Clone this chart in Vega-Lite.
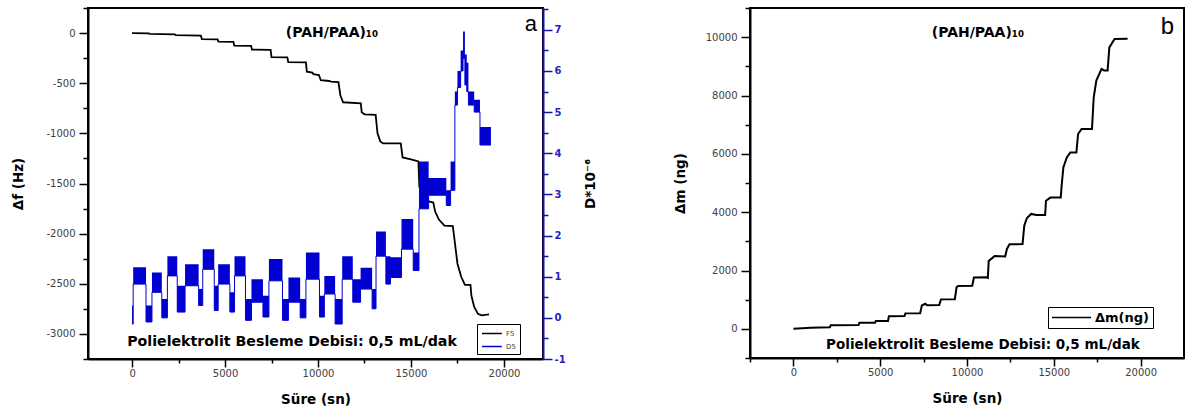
{
  "$schema": "https://vega.github.io/schema/vega-lite/v6.json",
  "background": "white",
  "padding": {"left": 10, "top": 2, "right": 0, "bottom": 0},
  "spacing": 207,
  "bounds": "flush",
  "config": {
    "view": {"stroke": "black", "strokeWidth": 2},
    "font": "DejaVu Sans",
    "axis": {"grid": false, "domainColor": "black", "domainWidth": 2, "tickColor": "black", "tickWidth": 1.5, "tickSize": 9,
      "labelFont": "DejaVu Sans", "labelFontSize": 10, "labelColor": "#404040", "labelPadding": 4,
      "titleFont": "DejaVu Sans", "titleFontWeight": "bold", "titleFontSize": 13.5, "titleColor": "black",
      "labelOverlap": false, "labelFlush": false, "tickCount": 100}
  },
  "datasets": {
    "f5": [
      {"t":0,"f":0,"series":"F5"},{"t":900,"f":-3,"series":"F5"},{"t":950,"f":-8,"series":"F5"},{"t":2300,"f":-12,"series":"F5"},{"t":2350,"f":-20,"series":"F5"},
      {"t":3700,"f":-25,"series":"F5"},{"t":3750,"f":-60,"series":"F5"},{"t":4600,"f":-62,"series":"F5"},{"t":4650,"f":-85,"series":"F5"},{"t":5450,"f":-87,"series":"F5"},
      {"t":5500,"f":-125,"series":"F5"},{"t":6400,"f":-127,"series":"F5"},{"t":6450,"f":-165,"series":"F5"},{"t":7450,"f":-168,"series":"F5"},{"t":7500,"f":-240,"series":"F5"},
      {"t":8350,"f":-243,"series":"F5"},{"t":8400,"f":-290,"series":"F5"},{"t":9350,"f":-292,"series":"F5"},{"t":9400,"f":-385,"series":"F5"},{"t":9700,"f":-395,"series":"F5"},
      {"t":9750,"f":-410,"series":"F5"},{"t":10050,"f":-418,"series":"F5"},{"t":10150,"f":-470,"series":"F5"},{"t":10600,"f":-478,"series":"F5"},{"t":10700,"f":-485,"series":"F5"},
      {"t":11100,"f":-488,"series":"F5"},{"t":11200,"f":-620,"series":"F5"},{"t":11350,"f":-690,"series":"F5"},{"t":12300,"f":-700,"series":"F5"},{"t":12350,"f":-790,"series":"F5"},
      {"t":12500,"f":-810,"series":"F5"},{"t":13100,"f":-815,"series":"F5"},{"t":13200,"f":-1000,"series":"F5"},{"t":13350,"f":-1080,"series":"F5"},{"t":13500,"f":-1100,"series":"F5"},
      {"t":14450,"f":-1100,"series":"F5"},{"t":14550,"f":-1240,"series":"F5"},{"t":15000,"f":-1260,"series":"F5"},{"t":15400,"f":-1280,"series":"F5"},{"t":15450,"f":-1530,"series":"F5"},
      {"t":15600,"f":-1600,"series":"F5"},{"t":15800,"f":-1660,"series":"F5"},{"t":16000,"f":-1680,"series":"F5"},{"t":16200,"f":-1690,"series":"F5"},{"t":16300,"f":-1780,"series":"F5"},
      {"t":16500,"f":-1860,"series":"F5"},{"t":16800,"f":-1920,"series":"F5"},{"t":17250,"f":-1925,"series":"F5"},{"t":17300,"f":-2000,"series":"F5"},{"t":17400,"f":-2150,"series":"F5"},
      {"t":17500,"f":-2300,"series":"F5"},{"t":17700,"f":-2430,"series":"F5"},{"t":17900,"f":-2510,"series":"F5"},{"t":18200,"f":-2510,"series":"F5"},{"t":18250,"f":-2620,"series":"F5"},
      {"t":18400,"f":-2730,"series":"F5"},{"t":18600,"f":-2800,"series":"F5"},{"t":18800,"f":-2815,"series":"F5"},{"t":19200,"f":-2805,"series":"F5"}
    ],
    "d5": [
      {"t":0,"lo":-0.15,"hi":0.3,"series":"D5"},{"t":60,"lo":0.82,"hi":1.23,"series":"D5"},{"t":750,"lo":-0.1,"hi":0.3,"series":"D5"},{"t":1070,"lo":0.62,"hi":1.1,"series":"D5"},
      {"t":1600,"lo":0.0,"hi":0.46,"series":"D5"},{"t":1900,"lo":1.02,"hi":1.5,"series":"D5"},{"t":2430,"lo":0.14,"hi":0.78,"series":"D5"},{"t":2850,"lo":0.78,"hi":1.3,"series":"D5"},
      {"t":3580,"lo":0.3,"hi":0.7,"series":"D5"},{"t":3800,"lo":1.18,"hi":1.67,"series":"D5"},{"t":4420,"lo":0.18,"hi":0.78,"series":"D5"},{"t":4630,"lo":0.82,"hi":1.3,"series":"D5"},
      {"t":5260,"lo":0.14,"hi":0.62,"series":"D5"},{"t":5510,"lo":1.02,"hi":1.5,"series":"D5"},{"t":6100,"lo":-0.06,"hi":0.46,"series":"D5"},{"t":6420,"lo":0.38,"hi":0.94,"series":"D5"},
      {"t":7040,"lo":0.02,"hi":0.54,"series":"D5"},{"t":7360,"lo":0.9,"hi":1.43,"series":"D5"},{"t":8090,"lo":-0.06,"hi":0.46,"series":"D5"},{"t":8410,"lo":0.38,"hi":0.98,"series":"D5"},
      {"t":9040,"lo":0.0,"hi":0.46,"series":"D5"},{"t":9350,"lo":0.94,"hi":1.59,"series":"D5"},{"t":10080,"lo":0.02,"hi":0.54,"series":"D5"},{"t":10340,"lo":0.58,"hi":1.02,"series":"D5"},
      {"t":10920,"lo":-0.15,"hi":0.46,"series":"D5"},{"t":11300,"lo":0.94,"hi":1.5,"series":"D5"},{"t":11870,"lo":0.38,"hi":0.94,"series":"D5"},{"t":12290,"lo":0.7,"hi":1.22,"series":"D5"},
      {"t":12910,"lo":0.22,"hi":0.7,"series":"D5"},{"t":13120,"lo":1.5,"hi":2.1,"series":"D5"},{"t":13650,"lo":0.82,"hi":1.5,"series":"D5"},{"t":13900,"lo":0.98,"hi":1.47,"series":"D5"},
      {"t":14490,"lo":1.67,"hi":2.4,"series":"D5"},{"t":15120,"lo":1.15,"hi":1.59,"series":"D5"},{"t":15430,"lo":2.65,"hi":3.8,"series":"D5"},{"t":15950,"lo":2.98,"hi":3.4,"series":"D5"},
      {"t":16900,"lo":2.73,"hi":3.1,"series":"D5"},{"t":17130,"lo":3.1,"hi":3.8,"series":"D5"},{"t":17360,"lo":5.17,"hi":5.5,"series":"D5"},{"t":17500,"lo":5.6,"hi":6.0,"series":"D5"},
      {"t":17670,"lo":6.0,"hi":6.5,"series":"D5"},{"t":17800,"lo":6.3,"hi":6.96,"series":"D5"},{"t":17900,"lo":5.66,"hi":6.4,"series":"D5"},{"t":18000,"lo":5.5,"hi":6.2,"series":"D5"},
      {"t":18090,"lo":5.17,"hi":5.5,"series":"D5"},{"t":18400,"lo":5.0,"hi":5.3,"series":"D5"},{"t":18710,"lo":4.2,"hi":4.64,"series":"D5"},{"t":19300,"lo":4.2,"hi":4.64,"series":"D5"}
    ],
    "dm": [
      {"t":0,"m":0,"series":"Δm(ng)"},{"t":1000,"m":35,"series":"Δm(ng)"},{"t":2100,"m":57,"series":"Δm(ng)"},{"t":2150,"m":120,"series":"Δm(ng)"},{"t":3750,"m":130,"series":"Δm(ng)"},
      {"t":3800,"m":205,"series":"Δm(ng)"},{"t":4700,"m":210,"series":"Δm(ng)"},{"t":4750,"m":265,"series":"Δm(ng)"},{"t":5450,"m":268,"series":"Δm(ng)"},{"t":5500,"m":435,"series":"Δm(ng)"},
      {"t":6400,"m":440,"series":"Δm(ng)"},{"t":6450,"m":530,"series":"Δm(ng)"},{"t":7300,"m":535,"series":"Δm(ng)"},{"t":7400,"m":800,"series":"Δm(ng)"},{"t":7600,"m":860,"series":"Δm(ng)"},
      {"t":7700,"m":810,"series":"Δm(ng)"},{"t":8400,"m":815,"series":"Δm(ng)"},{"t":8500,"m":1010,"series":"Δm(ng)"},{"t":9300,"m":1015,"series":"Δm(ng)"},{"t":9400,"m":1430,"series":"Δm(ng)"},
      {"t":9500,"m":1470,"series":"Δm(ng)"},{"t":10300,"m":1475,"series":"Δm(ng)"},{"t":10400,"m":1760,"series":"Δm(ng)"},{"t":11100,"m":1770,"series":"Δm(ng)"},{"t":11200,"m":1750,"series":"Δm(ng)"},
      {"t":11250,"m":2330,"series":"Δm(ng)"},{"t":11500,"m":2450,"series":"Δm(ng)"},{"t":11600,"m":2500,"series":"Δm(ng)"},{"t":12200,"m":2480,"series":"Δm(ng)"},{"t":12300,"m":2740,"series":"Δm(ng)"},
      {"t":12450,"m":2900,"series":"Δm(ng)"},{"t":13200,"m":2905,"series":"Δm(ng)"},{"t":13300,"m":3540,"series":"Δm(ng)"},{"t":13450,"m":3800,"series":"Δm(ng)"},{"t":13700,"m":3940,"series":"Δm(ng)"},
      {"t":14000,"m":3900,"series":"Δm(ng)"},{"t":14500,"m":3905,"series":"Δm(ng)"},{"t":14550,"m":4390,"series":"Δm(ng)"},{"t":14800,"m":4500,"series":"Δm(ng)"},{"t":15400,"m":4500,"series":"Δm(ng)"},
      {"t":15450,"m":4900,"series":"Δm(ng)"},{"t":15550,"m":5530,"series":"Δm(ng)"},{"t":15750,"m":5880,"series":"Δm(ng)"},{"t":15950,"m":6050,"series":"Δm(ng)"},{"t":16300,"m":6050,"series":"Δm(ng)"},
      {"t":16400,"m":6680,"series":"Δm(ng)"},{"t":16600,"m":6850,"series":"Δm(ng)"},{"t":17200,"m":6850,"series":"Δm(ng)"},{"t":17300,"m":7940,"series":"Δm(ng)"},{"t":17450,"m":8510,"series":"Δm(ng)"},
      {"t":17750,"m":8910,"series":"Δm(ng)"},{"t":17900,"m":8860,"series":"Δm(ng)"},{"t":18100,"m":8860,"series":"Δm(ng)"},{"t":18200,"m":9650,"series":"Δm(ng)"},{"t":18500,"m":9940,"series":"Δm(ng)"},
      {"t":19250,"m":9945,"series":"Δm(ng)"}
    ]
  },
  "resolve": {"scale": {"color": "independent"}, "legend": {"color": "independent"}},
  "hconcat": [
    {
      "width": 455, "height": 351,
      "layer": [
        {
          "layer": [
            {
              "data": {"name": "f5"},
              "mark": {"type": "line", "strokeWidth": 1.8},
              "encoding": {
                "x": {"field": "t", "type": "quantitative",
                  "scale": {"domain": [-2370, 22100], "nice": false, "zero": false},
                  "axis": {"title": "Süre (sn)", "values": [0,2500,5000,7500,10000,12500,15000,17500,20000],
                    "labelExpr": "datum.value % 5000 === 0 ? '' + datum.value : ''",
                    "tickCount": 100, "tickSize": 8, "labelPadding": 1, "titlePadding": 14,
                    "encoding": {"ticks": {"y2": {"value": {"expr": "datum.value % 5000 === 0 ? 8 : 4"}}}}}},
                "y": {"field": "f", "type": "quantitative",
                  "scale": {"domain": [-3250, 250], "nice": false, "zero": false},
                  "axis": {"title": "Δf (Hz)", "orient": "left",
                    "values": [-3250,-3000,-2750,-2500,-2250,-2000,-1750,-1500,-1250,-1000,-750,-500,-250,0,250],
                    "labelExpr": "abs(datum.value) % 500 == 0 ? '' + datum.value : ''",
                    "tickCount": 100, "titlePadding": 20,
                    "encoding": {"ticks": {"x2": {"value": {"expr": "abs(datum.value) % 500 == 0 ? -9 : -5"}}}}}},
                "color": {"field": "series", "type": "nominal",
                  "scale": {"domain": ["F5", "D5"], "range": ["#000000", "#0000d0"]},
                  "legend": {"title": null, "orient": "none", "legendX": 389, "legendY": 316, "symbolType": "M-1,0H3.4",
                    "symbolSize": 81, "symbolStrokeWidth": 1.5, "labelFontSize": 7, "labelColor": "#444", "labelOffset": 14,
                    "strokeColor": "black", "fillColor": "white", "padding": 4, "rowPadding": 4}}
              }
            },
            {
              "data": {"values": [{"t": 10750, "f": 0, "label": "(PAH/PAA)₁₀"}]},
              "mark": {"type": "text", "font": "DejaVu Sans", "fontWeight": "bold", "fontSize": 14, "align": "center", "baseline": "middle", "color": "black"},
              "encoding": {"x": {"field": "t", "type": "quantitative"}, "y": {"field": "f", "type": "quantitative"}, "text": {"field": "label"}}
            },
            {
              "data": {"values": [{"t": 21450, "f": 90, "label": "a"}]},
              "mark": {"type": "text", "font": "Liberation Sans", "fontSize": 22, "align": "center", "baseline": "middle", "color": "black"},
              "encoding": {"x": {"field": "t", "type": "quantitative"}, "y": {"field": "f", "type": "quantitative"}, "text": {"field": "label"}}
            },
            {
              "data": {"values": [{"t": 8600, "f": -3080, "label": "Polielektrolit Besleme Debisi: 0,5 mL/dak"}]},
              "mark": {"type": "text", "font": "DejaVu Sans", "fontWeight": "bold", "fontSize": 14.2, "align": "center", "baseline": "middle", "color": "black"},
              "encoding": {"x": {"field": "t", "type": "quantitative"}, "y": {"field": "f", "type": "quantitative"}, "text": {"field": "label"}}
            }
          ]
        },
        {
          "layer": [
            {
              "data": {"name": "d5"},
              "mark": {"type": "area", "interpolate": "step-after", "color": "#0000d0", "opacity": 1},
              "encoding": {
                "x": {"field": "t", "type": "quantitative"},
                "y": {"field": "lo", "type": "quantitative",
                  "scale": {"domain": [-1, 7.53], "nice": false, "zero": false},
                  "axis": {"title": "D*10⁻⁶", "orient": "right",
                    "values": [-1,-0.5,0,0.5,1,1.5,2,2.5,3,3.5,4,4.5,5,5.5,6,6.5,7,7.5],
                    "labelExpr": "datum.value % 1 === 0 ? '' + datum.value : ''",
                    "tickCount": 100,
                    "domainColor": "#14149e", "tickColor": "#14149e", "labelColor": "#2323c8", "labelFontWeight": "bold",
                    "labelPadding": 2, "titleAngle": 270, "titleBaseline": "top", "titlePadding": 18,
                    "encoding": {"ticks": {"x2": {"value": {"expr": "datum.value % 1 === 0 ? 9 : 5"}}}}}},
                "y2": {"field": "hi"}
              }
            },
            {
              "data": {"name": "d5"},
              "mark": {"type": "line", "interpolate": "step-after", "strokeWidth": 1},
              "encoding": {
                "x": {"field": "t", "type": "quantitative"},
                "y": {"field": "lo", "type": "quantitative"},
                "color": {"field": "series", "type": "nominal"}
              }
            }
          ]
        }
      ],
      "resolve": {"scale": {"y": "independent"}}
    },
    {
      "width": 434, "height": 350,
      "layer": [
        {
          "data": {"name": "dm"},
          "mark": {"type": "line", "strokeWidth": 2},
          "encoding": {
            "x": {"field": "t", "type": "quantitative",
              "scale": {"domain": [-2500, 22500], "nice": false, "zero": false},
              "axis": {"title": "Süre (sn)", "values": [-2500,0,2500,5000,7500,10000,12500,15000,17500,20000],
                "labelExpr": "datum.value % 5000 === 0 ? '' + datum.value : ''",
                "tickCount": 100, "tickSize": 8, "labelPadding": 1, "titlePadding": 14,
                "encoding": {"ticks": {"y2": {"value": {"expr": "datum.value % 5000 === 0 ? 8 : 4"}}}}}},
            "y": {"field": "m", "type": "quantitative",
              "scale": {"domain": [-1000, 11000], "nice": false, "zero": false},
              "axis": {"title": "Δm (ng)", "orient": "left",
                "values": [-1000,0,1000,2000,3000,4000,5000,6000,7000,8000,9000,10000,11000],
                "labelExpr": "abs(datum.value) % 2000 == 0 ? '' + datum.value : ''",
                "tickCount": 100, "titlePadding": 18,
                "encoding": {"ticks": {"x2": {"value": {"expr": "abs(datum.value) % 2000 == 0 ? -9 : -5"}}}}}},
            "color": {"field": "series", "type": "nominal",
              "scale": {"domain": ["Δm(ng)"], "range": ["#000000"]},
              "legend": {"title": null, "orient": "none", "legendX": 298, "legendY": 299, "symbolType": "M-1,0H5",
                "symbolSize": 169, "symbolStrokeWidth": 1.5, "labelFontSize": 13, "labelFontWeight": "bold",
                "labelFont": "DejaVu Sans", "labelColor": "black", "labelOffset": 29,
                "strokeColor": "black", "fillColor": "white", "padding": 3}}
          }
        },
        {
          "data": {"values": [{"t": 10630, "m": 10140, "label": "(PAH/PAA)₁₀"}]},
          "mark": {"type": "text", "font": "DejaVu Sans", "fontWeight": "bold", "fontSize": 14, "align": "center", "baseline": "middle", "color": "black"},
          "encoding": {"x": {"field": "t", "type": "quantitative"}, "y": {"field": "m", "type": "quantitative"}, "text": {"field": "label"}}
        },
        {
          "data": {"values": [{"t": 21550, "m": 10340, "label": "b"}]},
          "mark": {"type": "text", "font": "Liberation Sans", "fontSize": 24, "align": "center", "baseline": "middle", "color": "black"},
          "encoding": {"x": {"field": "t", "type": "quantitative"}, "y": {"field": "m", "type": "quantitative"}, "text": {"field": "label"}}
        },
        {
          "data": {"values": [{"t": 10920, "m": -550, "label": "Polielektrolit Besleme Debisi: 0,5 mL/dak"}]},
          "mark": {"type": "text", "font": "DejaVu Sans", "fontWeight": "bold", "fontSize": 13.5, "align": "center", "baseline": "middle", "color": "black"},
          "encoding": {"x": {"field": "t", "type": "quantitative"}, "y": {"field": "m", "type": "quantitative"}, "text": {"field": "label"}}
        }
      ]
    }
  ]
}
